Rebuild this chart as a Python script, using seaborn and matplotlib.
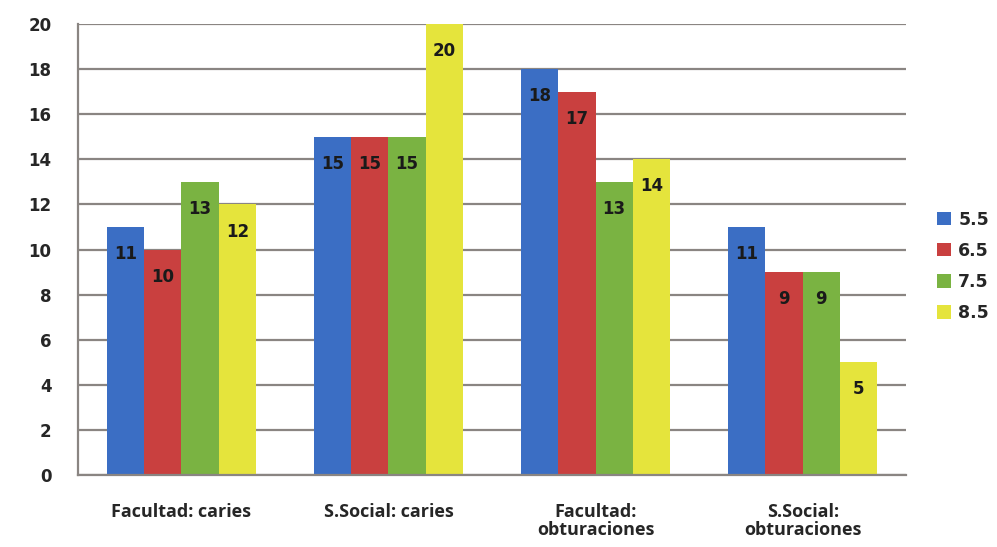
import matplotlib
matplotlib.use("Agg")
import matplotlib.pyplot as plt
import seaborn as sns
import pandas as pd

categories = ["Facultad: caries", "S.Social: caries", "Facultad:\nobturaciones", "S.Social:\nobturaciones"]
series = ["5.5", "6.5", "7.5", "8.5"]
values_55 = [11, 15, 18, 11]
values_65 = [10, 15, 17, 9]
values_75 = [13, 15, 13, 9]
values_85 = [12, 20, 14, 5]
colors = ["#3b6ec4", "#c9403f", "#7ab342", "#e5e43c"]

rows = []
for s, vals in zip(series, [values_55, values_65, values_75, values_85]):
    for c, v in zip(categories, vals):
        rows.append({"categoria": c, "serie": s, "valor": v})
df = pd.DataFrame(rows)

sns.set_style("white")
plt.rcParams['font.family'] = ['DejaVu Sans']

fig = plt.figure(figsize=(9.97, 5.47), dpi=100)
ax = fig.add_axes([0.078, 0.1316, 0.831, 0.8244])

sns.barplot(data=df, x="categoria", y="valor", hue="serie", palette=colors,
            width=0.72, saturation=1, edgecolor="none", ax=ax, legend=True)

for cont in ax.containers:
    ax.bar_label(cont, padding=-26, fontsize=12, fontweight='bold', color='#1a1a1a')

ax.set_ylim(0, 20)
ax.set_yticks(range(0, 21, 2))
ax.set_xlim(-0.5, 3.5)
ax.yaxis.grid(True, color='#8a8582', linewidth=1.6)
ax.set_axisbelow(True)
ax.set_xlabel("")
ax.set_ylabel("")
for side in ['top', 'right']:
    ax.spines[side].set_visible(False)
for side in ['left', 'bottom']:
    ax.spines[side].set_color('#8a8582')
    ax.spines[side].set_linewidth(1.6)

ax.tick_params(axis='y', length=5, color='#8a8582', labelsize=12, pad=14)
for t in ax.get_yticklabels():
    t.set_fontweight('bold')
ax.set_xticks([0, 1, 2, 3])
ax.set_xticklabels(categories, fontsize=13, fontweight='bold', family='Open Sans',
                   linespacing=1.05)
ax.tick_params(axis='x', length=0, pad=20)

handles, labels = ax.get_legend_handles_labels()
ax.legend_.remove()
fig.legend(handles, labels, loc='center left', bbox_to_anchor=(0.928, 0.513),
           frameon=False, prop={'weight': 'bold', 'size': 12.5},
           handlelength=0.8, handleheight=0.8, handletextpad=0.4, labelspacing=0.75,
           borderpad=0.2)

fig.savefig("out.png", dpi=100)
